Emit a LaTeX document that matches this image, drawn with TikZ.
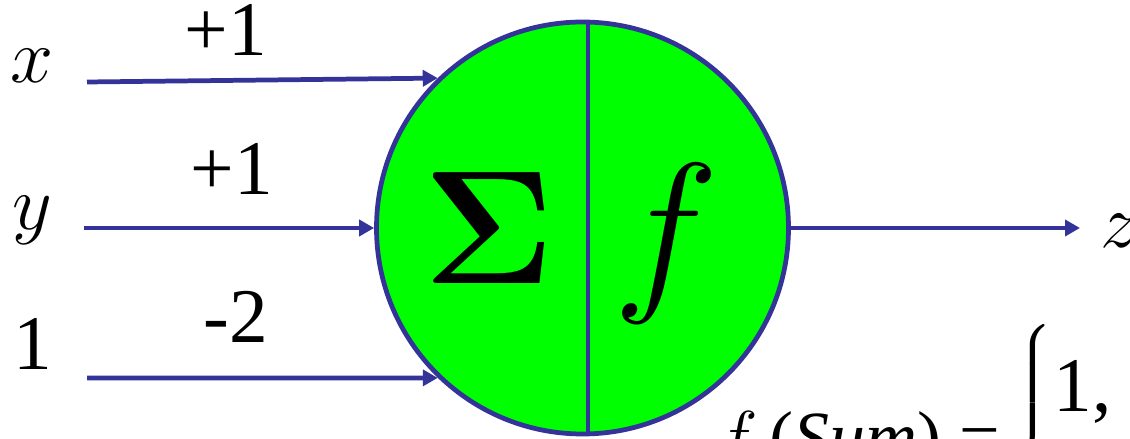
\RequirePackage{fix-cm}
\documentclass[tikz,border=0pt]{standalone}
\usepackage[no-math]{fontspec}
\setmainfont{Liberation Serif}
\usepackage{amsmath}
\usetikzlibrary{arrows.meta,calc}
\definecolor{nnblue}{HTML}{333399}
\definecolor{nngreen}{HTML}{00FF00}
\tikzset{
  neuron/.style={circle,draw=nnblue,fill=nngreen,line width=2.7pt,minimum size=8.24cm,inner sep=0pt},
  wire/.style={-{Triangle[length=3mm,width=3.2mm]},draw=nnblue,line width=2.7pt},
  sym/.style={font=\fontsize{44}{50}\selectfont,inner sep=0pt},
  weight/.style={font=\fontsize{44}{50}\selectfont,inner sep=0pt,anchor=base},
  big/.style={font=\fontsize{102}{110}\selectfont,inner sep=0pt,anchor=base},
}
\begin{document}
\begin{tikzpicture}
  \useasboundingbox (0,0) rectangle (22.6,8.78);
  \clip (0,0) rectangle (22.6,8.78);
  \node[neuron] (sumf) at (11.65,4.22) {};
  \draw[draw=nnblue,line width=2.7pt] ($(sumf.north)+(0.11,0)$) -- ($(sumf.south)+(0.11,0)$);
  \node[big,font=\fontsize{92}{100}\selectfont] (sigma) at (9.79,3.10) {$\mathbf{\Sigma}$};
  \node[big] (fn) at (13.32,3.0) {$f$};
  % inputs and output
  \coordinate (xin) at (1.74,7.14);
  \coordinate (yin) at (1.68,4.22);
  \coordinate (bin) at (1.74,1.22);
  \coordinate (zout) at (21.6,4.22);
  \draw[wire] (xin) -- (sumf.134);
  \draw[wire] (yin) -- (sumf.west);
  \draw[wire] (bin) -- (sumf.226);
  \draw[wire] (sumf.east) -- (zout);
  \node[sym,anchor=base] (xlab) at (0.64,7.12) {$x$};
  \node[sym,anchor=base] (ylab) at (0.64,4.18) {$y$};
  \node[sym,anchor=base] (onelab) at (0.66,1.38) {1};
  \node[weight] (wx) at (4.52,7.66) {+1};
  \node[weight] (wy) at (4.64,4.88) {+1};
  \node[weight] (wb) at (4.72,1.92) {-2};
  \node[sym,anchor=base west] (zlab) at (22.0,3.82) {$z$};
  % activation rule, cut by the frame
  \node[sym,font=\fontsize{41}{46}\selectfont,anchor=base west] (rule) at (14.30,-0.46) {$f$\,(\textit{Sum}) =};
  \node[sym,anchor=north west] (brace) at (20.26,2.30) {$\left\{\vrule height 2.1cm depth 2.1cm width 0pt\right.$};
  \node[sym,anchor=base west] (case) at (21.06,0.54) {1,};
\end{tikzpicture}
\end{document}
